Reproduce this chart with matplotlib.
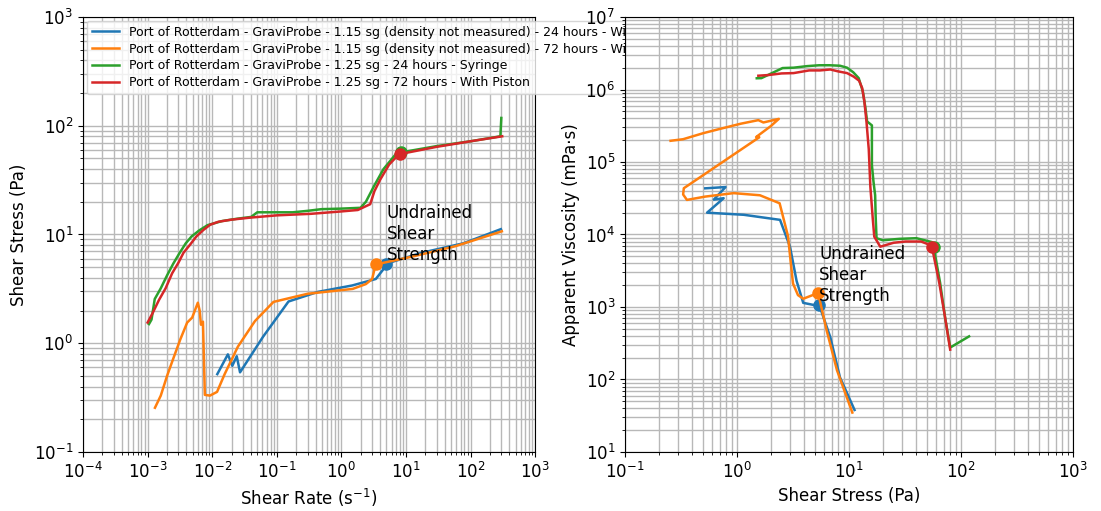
import numpy as np
import matplotlib
matplotlib.use("Agg")
import matplotlib.pyplot as plt

# legend labels
labels = [
    "Port of Rotterdam - GraviProbe - 1.15 sg (density not measured) - 24 hours - With Piston",
    "Port of Rotterdam - GraviProbe - 1.15 sg (density not measured) - 72 hours - With Piston",
    "Port of Rotterdam - GraviProbe - 1.25 sg - 24 hours - Syringe",
    "Port of Rotterdam - GraviProbe - 1.25 sg - 72 hours - With Piston",
]

# shear rate (1/s) and shear stress (Pa)
rate_115_24 = [0.012, 0.0175, 0.0205, 0.024, 0.027, 0.0615, 0.152, 0.437, 1.48,
               3.42, 4.49, 5.0, 17.7, 77.6, 295]
stress_115_24 = [0.52, 0.79, 0.62, 0.76, 0.54, 1.15, 2.42, 2.97, 3.4,
                 3.9, 4.8, 5.4, 6.8, 8.3, 11.2]

rate_115_72 = [1.3e-3, 1.6e-3, 2.0e-3, 2.45e-3, 3.2e-3, 4.1e-3, 4.9e-3, 6.0e-3,
               6.4e-3, 6.7e-3, 7.2e-3, 7.7e-3, 9.25e-3, 0.0119, 0.0156, 0.025,
               0.046, 0.089, 0.3, 1.5, 2.4, 3.0, 3.4, 13.1, 58, 306]
stress_115_72 = [0.255, 0.33, 0.5, 0.7, 1.08, 1.55, 1.72, 2.36,
                 2.0, 1.48, 1.58, 0.335, 0.33, 0.357, 0.52, 0.93,
                 1.6, 2.4, 2.85, 3.16, 3.5, 3.9, 5.3, 6.3, 7.8, 10.7]

rate_125_24 = [1.05e-3, 1.15e-3, 1.29e-3, 1.6e-3, 2.0e-3, 2.5e-3, 3.1e-3, 3.9e-3,
               4.8e-3, 6.3e-3, 8.5e-3, 0.0143, 0.025, 0.040, 0.05, 0.1, 0.176,
               0.3, 0.49, 1.0, 1.98, 2.4, 3.25, 4.5, 7.0, 8.5, 30, 100, 290, 300]
stress_125_24 = [1.5, 1.65, 2.55, 3.2, 4.2, 5.4, 6.7, 8.3,
                 9.6, 10.9, 12.2, 13.3, 14.0, 14.5, 16.0, 16.0, 16.0,
                 16.5, 17.1, 17.3, 17.6, 20, 28.3, 40, 55, 57, 65, 72, 80, 118]

rate_125_72 = [1.0e-3, 1.2e-3, 1.5e-3, 1.9e-3, 2.4e-3, 3.0e-3, 3.6e-3, 4.5e-3,
               5.7e-3, 7.3e-3, 9.3e-3, 0.0125, 0.02, 0.039, 0.1, 0.34, 1.0,
               1.8, 2.3, 2.8, 3.25, 4.0, 5.5, 7.4, 8.2, 30, 100, 310]
stress_125_72 = [1.55, 1.9, 2.5, 3.2, 4.4, 5.5, 6.8, 8.0,
                 9.6, 11.0, 12.3, 13.1, 13.7, 14.3, 15.0, 15.5, 16.3,
                 16.8, 18, 19, 25, 32, 44, 53, 55, 64, 72, 80]

# undrained shear strength points
uss_rate = [5.0, 3.4, 8.5, 8.2]
uss_stress = [5.4, 5.3, 57, 55]

series = [
    (rate_115_24, stress_115_24),
    (rate_115_72, stress_115_72),
    (rate_125_24, stress_125_24),
    (rate_125_72, stress_125_72),
]
colors = ["C0", "C1", "C2", "C3"]

fig = plt.figure(figsize=(11.01, 5.11), dpi=100)
ax1 = fig.add_axes([0.0754, 0.1155, 0.4106, 0.8512])
ax2 = fig.add_axes([0.5677, 0.1155, 0.4069, 0.8512])

for (rate, stress), c, lab, ur, us in zip(series, colors, labels, uss_rate, uss_stress):
    rate = np.array(rate)
    stress = np.array(stress)
    visc = stress / rate * 1000  # mPa·s
    ax1.plot(rate, stress, color=c, lw=1.8, label=lab)
    ax1.plot(ur, us, "o", color=c, ms=8)
    ax2.plot(stress, visc, color=c, lw=1.8)
    ax2.plot(us, us / ur * 1000, "o", color=c, ms=8)

ax1.text(uss_rate[0], uss_stress[0], "Undrained\nShear\nStrength", fontsize=12, va="bottom")
ax2.text(uss_stress[0], uss_stress[0] / uss_rate[0] * 1000, "Undrained\nShear\nStrength",
         fontsize=12, va="bottom")

ax1.set_xscale("log")
ax1.set_yscale("log")
ax1.set_xlim(1e-4, 1e3)
ax1.set_ylim(1e-1, 1e3)
ax1.set_xlabel("Shear Rate (s$^{-1}$)", fontsize=12)
ax1.set_ylabel("Shear Stress (Pa)", fontsize=12)

ax2.set_xscale("log")
ax2.set_yscale("log")
ax2.set_xlim(1e-1, 1e3)
ax2.set_ylim(1e1, 1e7)
ax2.set_xlabel("Shear Stress (Pa)", fontsize=12)
ax2.set_ylabel("Apparent Viscosity (mPa·s)", fontsize=12)

for ax in (ax1, ax2):
    ax.grid(True, which="both", color="#b8b8b8", lw=1)
    ax.set_axisbelow(True)
    ax.tick_params(labelsize=12)

ax1.legend(loc="upper left", fontsize=9, handlelength=2.2, labelspacing=0.3,
           borderaxespad=0.3)

fig.savefig("out.png", dpi=100)
